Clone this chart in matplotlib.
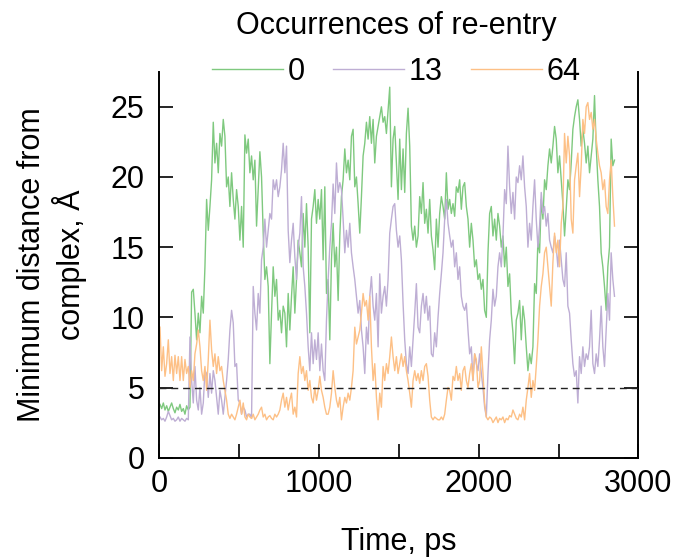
import numpy as np
import matplotlib
matplotlib.use("Agg")
import matplotlib.pyplot as plt
from matplotlib.ticker import FixedLocator, FuncFormatter

plt.rcParams['font.family'] = ['Liberation Sans', 'DejaVu Sans']

# sampling of the trajectories (ps)
t_start = 6.25
t_step = 10.4167

labels = ["0", "13", "64"]
colors = ["#7fc97f", "#beaed4", "#fdc086"]

dist_0 = [
    3.8, 3.5, 3.9, 3.4, 3.7, 3.3, 3.6, 3.9, 3.5, 3.2,
    3.6, 3.4, 3.8, 3.3, 3.5, 3.1, 3.7, 3.4, 3.6, 11.8,
    12.0, 10.3, 8.4, 10.3, 8.9, 11.5, 10.3, 13.6, 18.4, 16.2,
    17.9, 19.8, 23.9, 21.0, 22.4, 20.3, 23.1, 22.2, 24.1, 22.9,
    19.3, 20.0, 17.9, 20.3, 18.4, 17.0, 19.1, 17.9, 15.5, 17.9,
    15.0, 23.0, 21.7, 22.7, 20.3, 21.5, 19.8, 21.2, 16.5, 19.1,
    21.8, 20.0, 16.0, 12.7, 13.6, 12.2, 6.7, 10.3, 13.6, 11.5,
    12.7, 9.8, 10.5, 8.9, 10.8, 10.3, 7.9, 11.7, 9.1, 11.5,
    13.6, 10.3, 12.7, 15.5, 14.6, 13.6, 17.4, 15.0, 18.1, 15.0,
    8.9, 17.0, 17.9, 19.1, 16.7, 18.4, 17.0, 19.1, 14.1, 19.3,
    11.7, 12.7, 8.4, 14.1, 16.7, 13.6, 15.0, 11.2, 15.8, 18.6,
    19.8, 22.0, 20.3, 21.2, 19.8, 22.9, 23.4, 19.3, 20.0, 18.1,
    16.0, 18.6, 21.5, 22.4, 23.9, 22.7, 24.3, 22.4, 24.1, 21.0,
    22.9, 23.6, 24.3, 25.0, 23.9, 24.3, 23.1, 24.8, 26.4, 19.3,
    22.7, 23.6, 21.0, 18.4, 22.7, 19.1, 22.0, 18.9, 23.1, 24.9,
    22.2, 16.5, 15.5, 16.5, 15.0, 15.8, 18.6, 17.4, 19.6, 16.7,
    17.7, 16.0, 18.4, 15.8, 14.8, 13.4, 17.0, 15.0, 17.4, 18.6,
    17.9, 17.0, 20.3, 17.7, 18.4, 17.4, 18.1, 17.2, 19.3, 18.9,
    19.8, 17.7, 19.3,
    19.6, 17.9, 17.0, 15.0, 16.7, 15.5, 13.6, 14.1, 12.7, 13.1,
    12.0, 12.7, 10.5, 10.0, 14.6, 17.4, 17.9, 15.8, 17.0, 15.5,
    17.4, 16.5, 15.0, 15.8, 13.6, 15.0, 12.2, 13.1, 10.3, 8.9,
    6.7, 9.8, 10.3, 11.2, 8.4, 10.8, 9.8, 7.9, 6.2, 7.4,
    6.7, 7.9, 12.4, 11.7, 15.5, 14.6, 18.4, 17.0, 19.8, 19.1,
    20.8, 22.0, 21.0, 22.2, 23.6, 22.7, 20.3, 21.5, 19.8, 18.1,
    15.8, 17.7, 19.8, 19.1, 21.0, 23.4, 24.3, 25.0, 25.5, 24.1,
    22.2, 23.4, 22.4, 21.0, 22.2, 20.3, 21.5, 22.7, 25.8, 22.2,
    19.8, 17.9, 14.6, 13.6, 12.2, 10.5, 13.6, 15.0, 22.7, 20.8, 21.2,
]

dist_13 = [
    2.9, 2.7, 2.8, 2.6, 2.9, 3.3, 3.0, 2.7, 2.8, 2.6,
    2.7, 2.9, 2.6, 2.8, 2.7, 2.6, 2.8, 2.7, 8.6, 5.5,
    3.9, 6.5, 4.1, 3.4, 5.0, 3.1, 3.9, 6.2, 6.0, 4.3,
    6.0, 4.6, 6.2, 5.5, 4.3, 3.1, 4.8, 4.1, 3.1, 4.3,
    5.5, 7.0, 9.1, 10.5, 9.6, 6.5, 6.7, 4.1, 3.9, 3.1,
    3.6, 3.4, 2.9, 3.1, 3.1, 2.8, 12.2, 10.3, 9.1, 11.7,
    10.3, 14.1, 15.0, 17.0, 15.0, 16.2, 17.4, 17.0, 19.8, 19.1,
    19.8, 18.6, 19.3, 20.5, 22.4, 20.3, 22.2, 16.2, 13.9, 15.5,
    16.7, 14.3, 12.7, 15.0, 16.0, 18.6, 13.6, 12.2, 10.3, 7.9,
    6.2, 8.9, 6.7, 8.4, 7.0, 8.9, 6.2, 8.1, 6.2, 5.5,
    9.8, 12.7, 15.0, 16.7, 19.5, 17.4, 21.0, 18.9, 19.6, 19.1,
    17.0, 14.6, 16.2, 15.0, 16.7, 14.6, 13.6, 12.7, 11.5, 10.3,
    11.2, 9.1, 7.9, 6.0, 9.3, 8.1, 11.5, 12.9, 10.8, 9.8,
    11.7, 7.9, 13.1, 10.3, 11.5, 12.2, 10.8, 12.7, 16.0, 17.0,
    17.9, 18.1, 16.2, 15.0, 15.8, 14.1, 11.0, 8.4, 6.7, 6.0,
    7.9, 6.5, 8.4, 10.3, 12.4, 9.3, 8.9, 10.8, 11.7, 10.3,
    11.5, 9.8, 10.8, 7.4, 7.2, 8.9, 7.9, 10.0, 11.7, 13.1,
    14.6, 17.0, 18.4, 16.7, 15.8, 15.0, 15.5, 13.6, 14.6, 12.7,
    13.6, 11.5, 10.8,
    10.5, 11.0, 9.1, 7.4, 7.9, 5.5, 7.4, 6.7, 6.2, 7.4,
    6.0, 5.0, 3.6, 2.9, 6.0, 8.4, 9.8, 12.0, 10.8, 11.5,
    13.6, 14.6, 13.6, 15.8, 19.1, 18.1, 22.2, 19.3, 17.4, 18.9,
    17.0, 20.0, 19.6, 20.8, 19.8, 21.5, 19.3, 17.9, 15.0, 16.7,
    15.5, 17.9, 19.8, 17.0, 15.0, 16.5, 18.9, 17.4, 17.9, 16.5,
    17.4, 15.5, 15.0, 14.6, 15.8, 15.0, 13.6, 15.5, 14.1, 12.7,
    12.2, 14.6, 10.8, 10.3, 8.4, 6.7, 5.8, 6.2, 3.9, 7.2,
    6.0, 7.9, 6.5, 7.4, 7.0, 7.9, 10.5, 6.7, 6.0, 7.4,
    6.5, 8.4, 10.8, 7.9, 6.5, 9.1, 11.7, 9.8, 14.6, 12.7, 11.5,
]

dist_64 = [
    9.3, 6.2, 7.9, 5.8, 6.7, 8.4, 6.0, 7.2, 5.5, 7.3,
    6.0, 7.2, 5.5, 7.2, 5.5, 7.0, 6.0, 6.5, 5.0, 6.2,
    5.5, 7.4, 8.1, 9.1, 7.9, 6.2, 5.5, 6.5, 4.8, 7.0,
    9.8, 7.7, 6.5, 7.4, 6.0, 7.2, 6.2, 6.5, 5.5, 4.8,
    4.1, 3.1, 2.8, 3.1, 2.9, 2.7, 3.1, 3.6, 4.1, 3.1,
    3.9, 2.9, 2.7, 3.1, 2.9, 2.8, 3.1, 2.7, 2.9, 3.1,
    3.4, 3.6, 2.9, 3.1, 2.7, 2.9, 3.0, 2.8, 2.7, 3.1,
    2.9, 3.1, 3.4, 4.1, 4.6, 3.6, 4.3, 3.4, 4.1, 4.6,
    3.1, 3.6, 2.9, 6.0, 7.2, 6.0, 6.5, 5.5, 6.2, 4.8,
    5.5, 4.3, 3.9, 5.0, 4.1, 4.8, 5.8, 4.8, 4.3, 3.6,
    3.1, 3.1, 3.6, 4.6, 6.2, 5.0, 4.1, 3.6, 4.3, 2.7,
    3.6, 4.3, 3.9, 4.6, 4.1, 5.0, 6.2, 9.3, 8.1, 8.6,
    9.1, 10.3, 11.7, 10.8, 11.2, 9.8, 11.5, 7.9, 5.5, 6.7,
    4.3, 2.7, 4.6, 3.6, 6.5, 5.5, 6.7, 6.0, 7.2, 8.6,
    7.2, 6.2, 7.2, 6.0, 6.7, 7.4, 6.5, 7.2, 6.2, 5.5,
    4.6, 3.6, 5.5, 6.2, 5.5, 6.0, 5.3, 6.2, 5.5, 6.5,
    6.7, 5.8, 4.1, 2.9, 2.7, 2.9, 2.8, 2.7, 2.7, 2.9,
    2.7, 3.1, 4.1, 5.0, 4.8, 4.1, 5.8, 5.5, 6.5, 5.5,
    6.0, 4.8, 6.2,
    6.5, 5.5, 5.0, 6.0, 6.7, 5.5, 7.4, 7.0, 5.0, 5.5,
    7.9, 6.0, 3.9, 2.9, 2.7, 2.9, 2.8, 2.5, 2.7, 2.9,
    2.5, 2.8, 2.7, 2.9, 2.5, 2.8, 2.7, 3.0, 2.9, 3.4,
    3.1, 2.8, 2.7, 3.1, 2.9, 3.6, 2.7, 4.1, 5.0, 6.0,
    4.3, 5.5, 4.8, 6.5, 8.4, 10.8, 12.2, 13.1, 14.6, 15.0,
    13.6, 12.2, 10.8, 13.9, 16.0, 14.6, 15.5, 13.6, 16.7, 17.9,
    23.1, 21.0, 22.9, 21.5, 17.0, 16.0, 19.8, 20.8, 21.7, 18.6,
    20.8, 24.1, 23.1, 25.0, 25.3, 24.1, 24.6, 23.4, 24.1, 22.7,
    21.7, 20.8, 20.3, 19.1, 19.8, 17.9, 17.4, 19.8, 21.2, 18.6, 16.5,
]

series = [dist_0, dist_13, dist_64]
threshold = 5.0
x_ticks = [0, 500, 1000, 1500, 2000, 2500, 3000]
y_ticks = [0, 5, 10, 15, 20, 25]

FS = 22
fig = plt.figure(figsize=(6.78, 5.59), dpi=100)
ax = fig.add_axes([0.2345, 0.1812, 0.7072, 0.6905])

for vals, lab, col in zip(series, labels, colors):
    t = t_start + t_step * np.arange(len(vals))
    ax.plot(t, vals, color=col, lw=1.0, label=lab)

ax.axhline(threshold, color="#222222", lw=1.0, linestyle=(0, (5, 3.5)), zorder=5)

ax.set_xlim(0, 3000)
ax.set_ylim(0, 27.5)
ax.xaxis.set_major_locator(FixedLocator(x_ticks))
ax.xaxis.set_major_formatter(FuncFormatter(lambda v, p: f"{int(v)}" if int(v) % 1000 == 0 else ""))
ax.yaxis.set_major_locator(FixedLocator(y_ticks))

ax.spines['top'].set_visible(False)
for s in ['left', 'right', 'bottom']:
    ax.spines[s].set_linewidth(1.4)

ax.tick_params(axis='both', direction='in', length=10, width=1.2, labelsize=FS)
ax.tick_params(axis='y', right=True, pad=10.5)
ax.tick_params(axis='x', pad=8)

ax.set_xlabel("Time, ps", fontsize=FS, labelpad=20)
ax.set_ylabel("Minimum distance from\ncomplex, Å", fontsize=FS, labelpad=17, linespacing=1.15)

leg = ax.legend(title="Occurrences of re-entry", ncol=3, frameon=False,
                loc='lower center', bbox_to_anchor=(0.495, 0.93),
                fontsize=FS, title_fontsize=FS, handlelength=2.3,
                handletextpad=0.15, columnspacing=0.95, borderaxespad=0.0)

fig.savefig("out.png", dpi=100)
